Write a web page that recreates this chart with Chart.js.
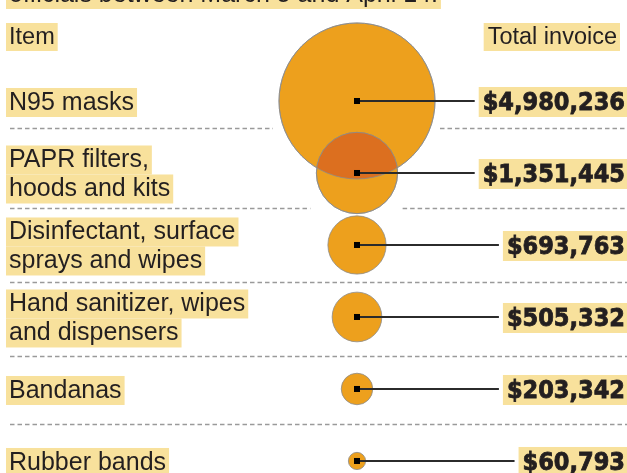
<!DOCTYPE html>
<html><head><meta charset="utf-8">
<script src="https://cdn.jsdelivr.net/npm/chart.js@4.4.1/dist/chart.umd.min.js"></script>
<style>html,body{margin:0;padding:0;background:#fff;overflow:hidden}</style>
</head><body>
<canvas id="c" width="627" height="473"></canvas>
<script>
const items = [['N95 masks'], ['PAPR filters,', 'hoods and kits'], ['Disinfectant, surface', 'sprays and wipes'],
  ['Hand sanitizer, wipes', 'and dispensers'], ['Bandanas'], ['Rubber bands']];
const invoices = [4980236, 1351445, 693763, 505332, 203342, 60793];
const headerLeft = 'Item';
const headerRight = 'Total invoice';
const introTail = 'officials between March 5 and April 14.';

// style / layout
const HILITE = '#f8e19c';
const FILL = '#eda01d';
const OVERLAP = '#dc6f1f';
const EDGE = '#8c8c8c';
const INK = '#231f20';
const MAX_R = 78;
const LINE_H = 29;
const sepRows = [0.375, 1.486, 2.514, 3.542, 4.486];
const REG = '25px "Liberation Sans", Arial, sans-serif';
const BOLD = 'bold 25px "DejaVu Sans Condensed", "DejaVu Sans", sans-serif';

const maxVal = Math.max(...invoices);
const fmt = v => '$' + v.toLocaleString('en-US');

function hiText(ctx, txt, x, top, h, align, padL, padR, heavy) {
  const w = ctx.measureText(txt).width;
  const left = align === 'right' ? x - w : x;
  ctx.fillStyle = HILITE;
  ctx.fillRect(left - padL, top, w + padL + padR, h);
  ctx.fillStyle = INK;
  ctx.textAlign = 'left';
  ctx.fillText(txt, left, top + h - 7);
  if (heavy) {
    ctx.strokeStyle = INK; ctx.lineWidth = 0.8;
    ctx.strokeText(txt, left, top + h - 7);
  }
  return left - padL;
}

const annotate = {
  id: 'annotate',
  beforeDatasetsDraw(chart) {
    const ctx = chart.ctx, ys = chart.scales.y;
    const meta = chart.getDatasetMeta(0);
    ctx.save();
    // separators with gaps round the bubbles
    ctx.strokeStyle = '#9a9a9a';
    ctx.lineWidth = 1.4;
    ctx.setLineDash([4.5, 3]);
    sepRows.forEach(r => {
      const y = ys.getPixelForValue(r);
      let segs = [[10, 627]];
      meta.data.forEach(el => {
        const rad = el.options.radius;
        if (Math.abs(y - el.y) < rad) {
          const a = el.x - rad - 6, b = el.x + rad + 5;
          segs = segs.flatMap(([s, e]) => {
            if (b <= s || a >= e) return [[s, e]];
            const out = [];
            if (a > s) out.push([s, a]);
            if (b < e) out.push([b, e]);
            return out;
          });
        }
      });
      segs.forEach(([s, e]) => {
        ctx.beginPath(); ctx.moveTo(s, y + 0.5); ctx.lineTo(e, y + 0.5); ctx.stroke();
      });
    });
    ctx.setLineDash([]);
    // intro tail (cut off at top), headers
    ctx.font = REG;
    hiText(ctx, introTail, 9, -22, 31, 'left', 3, 3);
    ctx.font = '23.5px "Liberation Sans", Arial, sans-serif';
    hiText(ctx, headerLeft, 9, 23, 28, 'left', 3, 3);
    hiText(ctx, headerRight, 617, 23, 28, 'right', 4, 3);
    // item labels
    ctx.font = REG;
    items.forEach((lines, i) => {
      const cy = ys.getPixelForValue(i);
      const top = cy - lines.length * LINE_H / 2 + 1.5;
      lines.forEach((ln, k) => hiText(ctx, ln, 9, top + k * LINE_H, LINE_H, 'left', 3, 3));
    });
    ctx.restore();
  },
  afterDatasetsDraw(chart) {
    const ctx = chart.ctx;
    const pts = chart.getDatasetMeta(0).data;
    ctx.save();
    // darker fill where neighbouring bubbles overlap, both outlines kept
    for (let i = 0; i < pts.length - 1; i++) {
      const a = pts[i], b = pts[i + 1];
      const ra = a.options.radius, rb = b.options.radius;
      if (Math.hypot(a.x - b.x, a.y - b.y) >= ra + rb) continue;
      ctx.save();
      ctx.beginPath(); ctx.arc(a.x, a.y, ra, 0, Math.PI * 2); ctx.clip();
      ctx.beginPath(); ctx.arc(b.x, b.y, rb, 0, Math.PI * 2);
      ctx.fillStyle = OVERLAP; ctx.fill();
      ctx.restore();
      ctx.strokeStyle = EDGE; ctx.lineWidth = 0.8;
      [[a, ra], [b, rb]].forEach(([p, r]) => {
        ctx.beginPath(); ctx.arc(p.x, p.y, r, 0, Math.PI * 2); ctx.stroke();
      });
    }
    ctx.font = BOLD;
    pts.forEach((el, i) => {
      const cy = el.y;
      const boxLeft = hiText(ctx, fmt(invoices[i]), 625, cy - 14, 30, 'right', 4, 2, true);
      ctx.strokeStyle = '#2b2b2b';
      ctx.lineWidth = 1.8;
      ctx.beginPath(); ctx.moveTo(el.x, cy); ctx.lineTo(boxLeft - 4, cy); ctx.stroke();
      ctx.fillStyle = '#000';
      ctx.fillRect(el.x - 3, cy - 3, 6, 6);
    });
    ctx.restore();
  }
};

new Chart(document.getElementById('c'), {
  type: 'bubble',
  data: {
    datasets: [{
      data: invoices.map((v, i) => ({ x: 0, y: i, r: Math.sqrt(v / maxVal) * MAX_R })),
      backgroundColor: FILL,
      borderColor: EDGE,
      borderWidth: 0.8,
      hoverRadius: 0,
      clip: false
    }]
  },
  options: {
    responsive: false,
    animation: false,
    devicePixelRatio: 1,
    layout: { padding: 0, autoPadding: false },
    plugins: { legend: { display: false }, tooltip: { enabled: false } },
    scales: {
      x: { type: 'linear', display: false, min: -357, max: 270 },
      y: { type: 'linear', display: false, reverse: true, min: -1.4027, max: 5.167 }
    }
  },
  plugins: [annotate]
});
</script>
</body></html>
